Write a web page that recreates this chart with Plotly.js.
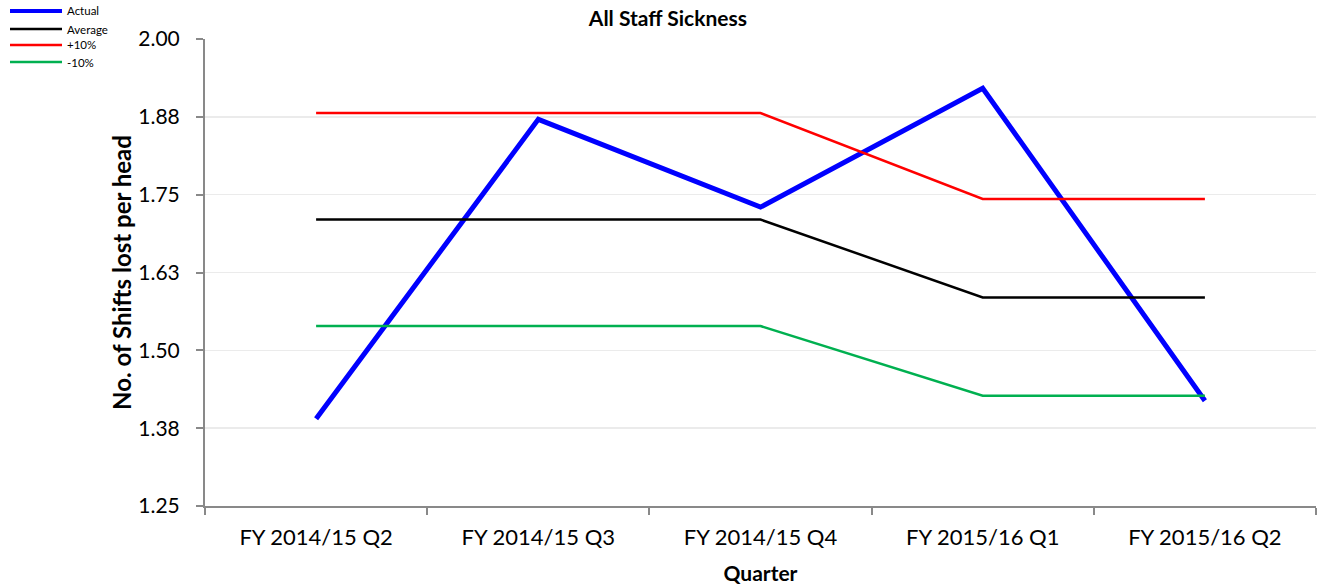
<!DOCTYPE html>
<html><head><meta charset="utf-8">
<script src="https://cdn.plot.ly/plotly-3.0.1.min.js"></script>
<style>html,body{margin:0;padding:0;background:#fff}#chart{width:1320px;height:585px}</style>
</head><body><div id="chart"></div>
<script>
const quarters = ["FY 2014/15 Q2","FY 2014/15 Q3","FY 2014/15 Q4","FY 2015/16 Q1","FY 2015/16 Q2"];
const actual = [1.390, 1.871, 1.730, 1.921, 1.419];
const average = [1.710, 1.710, 1.710, 1.585, 1.585];
const plus10 = [1.881, 1.881, 1.881, 1.743, 1.743];
const minus10 = [1.539, 1.539, 1.539, 1.427, 1.427];
const yTickVals = [1.25, 1.375, 1.5, 1.625, 1.75, 1.875, 2.0];
const yTickText = ["1.25","1.38","1.50","1.63","1.75","1.88","2.00"];

const FONT = "Lato, 'Open Sans', sans-serif";
const traces = [
  {name:"Actual", x:quarters, y:actual, mode:"lines", line:{color:"#0000ff", width:5}},
  {name:"Average", x:quarters, y:average, mode:"lines", line:{color:"#000000", width:2.5}},
  {name:"+10%", x:quarters, y:plus10, mode:"lines", line:{color:"#ff0000", width:2.5}},
  {name:"-10%", x:quarters, y:minus10, mode:"lines", line:{color:"#00b050", width:2.5}}
];

// Manual legend (figure pixel positions converted to paper fractions)
const W = 1320, H = 585;
const legendRowsY = [11, 29, 45, 62];
const shapes = [], annotations = [];
traces.forEach((t, i) => {
  shapes.push({type:"line", xref:"paper", yref:"paper",
    x0:(10-205)/1111, x1:(62-205)/1111,
    y0:(506-legendRowsY[i])/467, y1:(506-legendRowsY[i])/467,
    line:{color:t.line.color, width: i===0 ? 4 : 2.5}});
  annotations.push({text:t.name, xref:"paper", yref:"paper",
    x:(65-205)/1111, y:(506-legendRowsY[i])/467, xanchor:"left", yanchor:"middle",
    showarrow:false, font:{size:11.5, family:FONT, color:"#000"}});
});

const layout = {
  width:W, height:H,
  margin:{l:205, r:4, t:39, b:79, autoexpand:false},
  paper_bgcolor:"#fff", plot_bgcolor:"#fff",
  font:{family:FONT, color:"#000"},
  title:{text:"<b>All Staff Sickness</b>", xref:"container", x:0.506, xanchor:"center", yref:"container", y:1-19/H, yanchor:"middle", font:{size:21, family:FONT}},
  showlegend:false,
  shapes:shapes, annotations:annotations,
  xaxis:{type:"category", range:[-0.5,4.5], showline:true, linecolor:"#898989", linewidth:2, ticks:"outside", tickson:"boundaries", ticklen:7, tickcolor:"#898989", tickwidth:2, showgrid:false, tickfont:{size:22, family:FONT}, ticklabelstandoff:11, title:{text:"<b>Quarter</b>", font:{size:21, family:FONT}, standoff:18}, zeroline:false, fixedrange:true},
  yaxis:{range:[1.25,2.0], tickmode:"array", tickvals:yTickVals, ticktext:yTickText, showline:true, linecolor:"#898989", linewidth:2, ticks:"outside", ticklen:7, tickcolor:"#898989", tickwidth:2, showgrid:true, gridcolor:"#ebebeb", gridwidth:1.5, tickfont:{size:21, family:FONT}, ticklabelstandoff:12, title:{text:"<b>No. of Shifts lost per head</b>", font:{size:24, family:FONT}, standoff:0}, zeroline:false, fixedrange:true}
};
Plotly.newPlot("chart", traces, layout, {displayModeBar:false, staticPlot:true});
</script></body></html>
